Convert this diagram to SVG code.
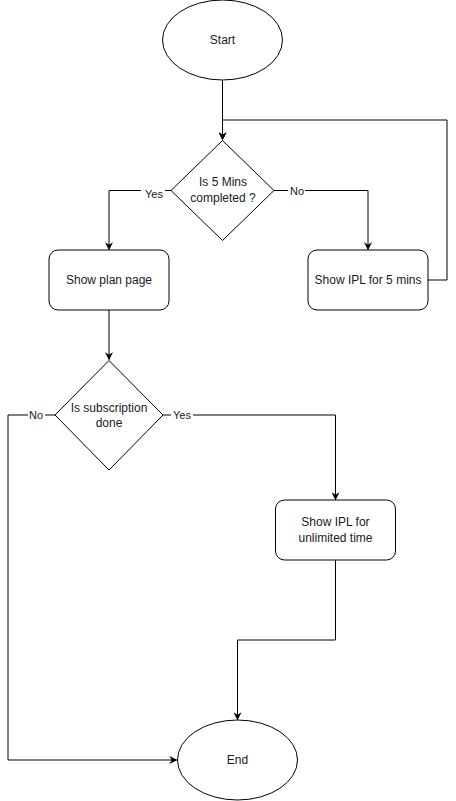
<svg xmlns="http://www.w3.org/2000/svg" width="456" height="801" viewBox="0 0 456 801">
<style>
.shape{fill:#fff;stroke:#000;stroke-width:1}
.edge{fill:none;stroke:#000;stroke-width:1}
.t{font-family:"Liberation Sans",Arial,sans-serif;font-size:12px;fill:#1a1a1a;text-anchor:middle}
.lbl{font-family:"Liberation Sans",Arial,sans-serif;font-size:11px;fill:#1a1a1a;text-anchor:middle}
.lblbg{fill:#fff;stroke:none}
</style>
<defs>
<marker id="arr" viewBox="0 0 10 10" refX="9" refY="5" markerWidth="8" markerHeight="8" markerUnits="userSpaceOnUse" orient="auto">
<path d="M0,0 L10,5 L0,10 L3,5 Z" fill="#000"/>
</marker>
</defs>
<rect width="456" height="801" fill="#fff"/>
<g id="connectors">
<path class="edge" d="M222.5,80 V139.5" marker-end="url(#arr)"/>
<path class="edge" d="M172,190.5 H109 V249.5" marker-end="url(#arr)"/>
<path class="edge" d="M274,190.5 H368 V249.5" marker-end="url(#arr)"/>
<path class="edge" d="M428,280 H447 V120 H222.5 V139.5" marker-end="url(#arr)"/>
<path class="edge" d="M109,310 V359.5" marker-end="url(#arr)"/>
<path class="edge" d="M55,415 H8 V760 H176.5" marker-end="url(#arr)"/>
<path class="edge" d="M163,415 H335.5 V499.5" marker-end="url(#arr)"/>
<path class="edge" d="M335.5,560 V640 H237.5 V719.5" marker-end="url(#arr)"/>
<rect class="lblbg" x="141" y="186" width="24" height="13"/>
<text class="lbl" x="154" y="198">Yes</text>
<rect class="lblbg" x="288" y="184" width="17" height="13"/>
<text class="lbl" x="297" y="195">No</text>
<rect class="lblbg" x="28" y="409" width="17" height="13"/>
<text class="lbl" x="36" y="419">No</text>
<rect class="lblbg" x="171" y="409" width="22" height="13"/>
<text class="lbl" x="182" y="419">Yes</text>
</g>
<g id="start">
<ellipse class="shape" cx="222.5" cy="40" rx="60" ry="40"/>
<text class="t" x="222.5" y="44">Start</text>
</g>
<g id="decision1">
<polygon class="shape" points="222.5,140.5 274,190.5 222.5,240.5 171,190.5"/>
<text class="t" x="223" y="186">Is 5 Mins</text>
<text class="t" x="223" y="202">completed ?</text>
</g>
<g id="planpage">
<rect class="shape" x="49" y="250" width="120" height="60" rx="9"/>
<text class="t" x="109" y="284">Show plan page</text>
</g>
<g id="ipl5">
<rect class="shape" x="308" y="250" width="120" height="60" rx="9"/>
<text class="t" x="368" y="284">Show IPL for 5 mins</text>
</g>
<g id="decision2">
<polygon class="shape" points="109,360.5 163,415 109,470 55,415"/>
<text class="t" x="109" y="412">Is subscription</text>
<text class="t" x="109" y="427">done</text>
</g>
<g id="iplunlimited">
<rect class="shape" x="275.5" y="500" width="120" height="60" rx="9"/>
<text class="t" x="335.5" y="526">Show IPL for</text>
<text class="t" x="335.5" y="542">unlimited time</text>
</g>
<g id="end">
<ellipse class="shape" cx="237.5" cy="760" rx="60" ry="40"/>
<text class="t" x="237.5" y="764">End</text>
</g>
</svg>
